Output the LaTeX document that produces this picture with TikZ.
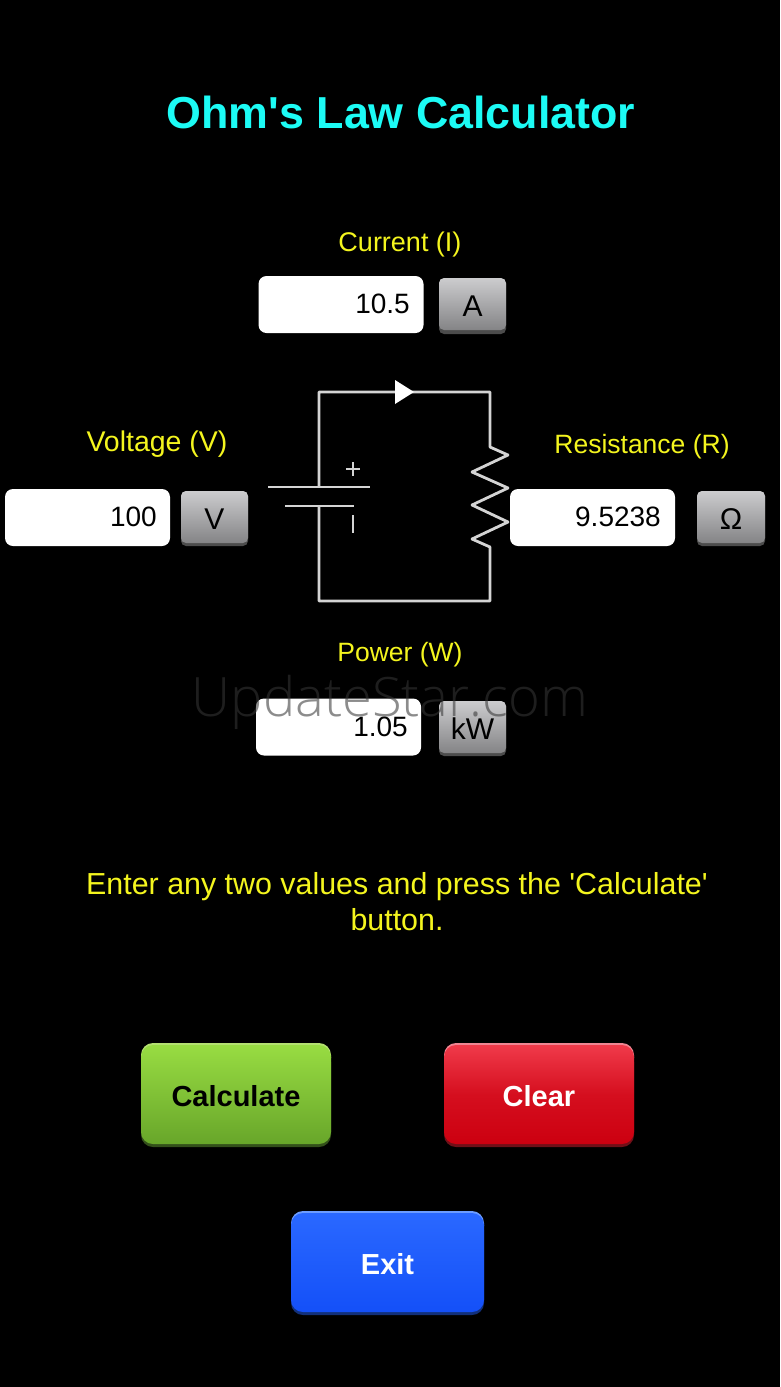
\documentclass[tikz,border=0pt]{standalone}
\usepackage{fontspec}
\setmainfont{Liberation Sans}
\newfontfamily\wmfont{Open Sans Light}[BoldFont={Open Sans}]
\newfontfamily\apofont{Liberation Sans}
\newcommand{\sq}{{\apofont'}}
\definecolor{titlecyan}{HTML}{1CFBF5}
\definecolor{labelyellow}{HTML}{F4F51E}
\definecolor{wire}{HTML}{D4D4D4}
\definecolor{greenA}{HTML}{98DC42}
\definecolor{greenB}{HTML}{68A62A}
\definecolor{greenS}{HTML}{33501A}
\definecolor{greenR}{HTML}{B4E070}
\definecolor{redA}{HTML}{F03A4A}
\definecolor{redB}{HTML}{CC0010}
\definecolor{redS}{HTML}{701018}
\definecolor{redR}{HTML}{F08592}
\definecolor{blueA}{HTML}{2A68FF}
\definecolor{blueB}{HTML}{1450F8}
\definecolor{blueS}{HTML}{12307A}
\definecolor{blueR}{HTML}{6C9CFF}
\definecolor{unitA}{HTML}{CCCCCE}
\definecolor{unitB}{HTML}{848486}
\newcommand{\fs}[1]{\fontsize{#1}{#1}\selectfont}
\newcommand{\dn}[1]{\raisebox{0pt}[\dimexpr\height+4pt\relax][\depth]{#1}}
\tikzset{
  field/.style={draw=none,fill=white,rounded corners=8pt,minimum width=165pt,minimum height=57pt,inner sep=0pt},
  fieldtext/.style={text=black,anchor=east,inner sep=0pt,font=\fs{28}},
  lab/.style={text=labelyellow,inner sep=0pt},
  unit/.style={rounded corners=5pt,minimum width=67pt,minimum height=52pt,inner sep=0pt,top color=unitA,bottom color=unitB,text=black,font=\fs{30}},
  unitshadow/.style={fill=black!70!white,draw=none,rounded corners=5pt},
  bigbtn/.style={rounded corners=12pt,inner sep=0pt,minimum height=99pt,font=\bfseries\fs{29}},
  circ/.style={draw=wire,line width=2.8pt,line join=round},
}
\begin{document}
\begin{tikzpicture}[x=1pt,y=-1pt]
\fill[black] (0,0) rectangle (780,1387);
\useasboundingbox (0,0) rectangle (780,1387);

\node[text=titlecyan,font=\bfseries\fs{44.8},inner sep=0pt] (title) at (401,112) {Ohm\sq s Law Calculator};

\node[lab,font=\fs{27}] (lI) at (400,245) {Current (I)};
\node[lab,font=\fs{28.5}] (lV) at (157,444) {Voltage (V)};
\node[lab,font=\fs{26.5}] (lR) at (642,447) {Resistance (R)};
\node[lab,font=\fs{26.5}] (lP) at (400,655) {Power (W)};

% circuit
\coordinate (tl) at (319,392);
\coordinate (tr) at (490,392);
\coordinate (r1) at (490,447);
\coordinate (r2) at (508,455);
\coordinate (r3) at (472,472);
\coordinate (r4) at (508,488);
\coordinate (r5) at (472,505);
\coordinate (r6) at (508,522);
\coordinate (r7) at (472,539);
\coordinate (r8) at (490,547);
\coordinate (br) at (490,601);
\coordinate (bl) at (319,601);
\coordinate (b1) at (319,487);
\coordinate (b2) at (319,506);
\draw[circ] (b1) -- (tl) -- (tr) -- (r1) -- (r2) -- (r3) -- (r4) -- (r5) -- (r6) -- (r7) -- (r8) -- (br) -- (bl) -- (b2);
\draw[circ] (268,487) -- (370,487);
\draw[circ] (285,506) -- (354,506);
\draw[circ,line width=2.2pt] (346,469) -- (360,469) (353,462) -- (353,476);
\draw[circ,line width=2.4pt] (353,515) -- (353,533);
\fill[white] (395,380) -- (414,392) -- (395,404) -- cycle;

% fields
\node[field] (fI) at (341,304.5) {};
\node[fieldtext] (tI) at (410,304) {10.5};
\node[field] (fV) at (87.5,517.5) {};
\node[fieldtext] (tV) at (157,517) {100};
\node[field] (fR) at (592.5,517.5) {};
\node[fieldtext] (tR) at (661,517) {9.5238};
\node[field] (fP) at (338.5,727) {};
\node[fieldtext] (tP) at (408,727) {1.05};

% unit buttons
\fill[unitshadow] (439,279) rectangle (506,334);
\node[unit] (uA) at (472.5,304) {\dn{A}};
\fill[unitshadow] (181,491) rectangle (248,546);
\node[unit] (uV) at (214.5,517) {\dn{V}};
\fill[unitshadow] (697,491) rectangle (765,546);
\node[unit,minimum width=68pt] (uR) at (731,517) {\dn{Ω}};
\fill[unitshadow] (439,701) rectangle (506,756);
\node[unit] (uP) at (472.5,727) {\dn{kW}};

% instructions
\node[text=labelyellow,font=\fs{30.4},inner sep=0pt] (msg1) at (397,887) {Enter any two values and press the \sq Calculate\sq};
\node[text=labelyellow,font=\fs{30.4},inner sep=0pt] (msg2) at (397,920) {button.};

% big buttons
\fill[greenS,rounded corners=12pt] (141,1050) rectangle (331,1147);
\fill[greenR,rounded corners=12pt] (141,1043) rectangle (331,1070);
\node[bigbtn,minimum width=190pt,top color=greenA,bottom color=greenB,text=black] (calc) at (236,1094.5) {\dn{Calculate}};
\fill[redS,rounded corners=12pt] (444,1050) rectangle (634,1147);
\fill[redR,rounded corners=12pt] (444,1043) rectangle (634,1070);
\node[bigbtn,minimum width=190pt,top color=redA,bottom color=redB,middle color=redB!75!redA,text=white] (clear) at (539,1094.5) {\dn{Clear}};
\fill[blueS,rounded corners=12pt] (291,1218) rectangle (484,1315);
\fill[blueR,rounded corners=12pt] (291,1211) rectangle (484,1238);
\node[bigbtn,minimum width=193pt,top color=blueA,bottom color=blueB,text=white] (exit) at (387.5,1262.5) {\dn{Exit}};

% watermark
\node[text=black!79!white,text opacity=0.57,font=\wmfont\fs{54.3},inner sep=0pt] (wm) at (390,702) {UpdateStar.com};
\end{tikzpicture}
\end{document}
